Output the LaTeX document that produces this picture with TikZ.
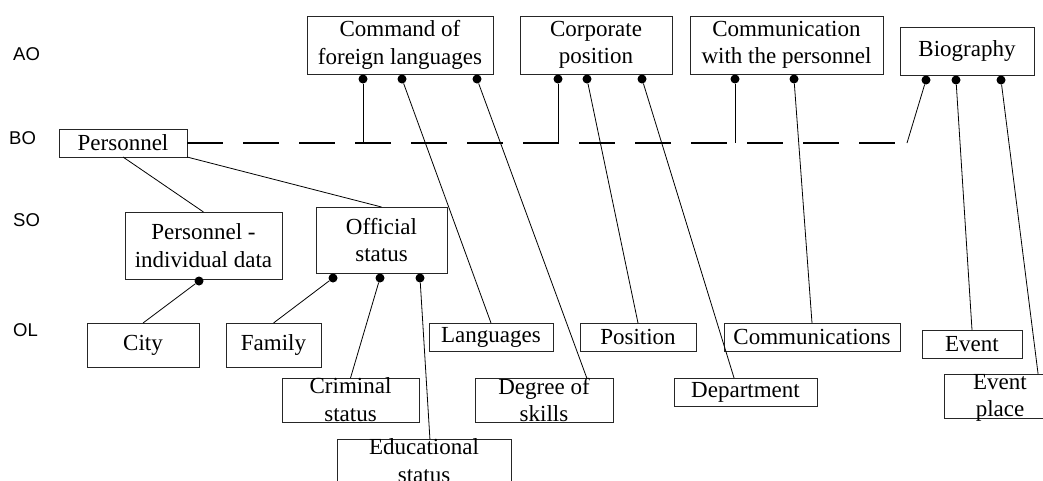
\documentclass[tikz,border=0pt]{standalone}
\usepackage{fontspec}
\setmainfont{Liberation Serif}
\newfontfamily\levelfont{Liberation Sans}
\usetikzlibrary{calc}

\tikzset{
  boxfont/.style={font=\fontsize{23}{27.5}\selectfont},
  box/.style={draw=black!85, line width=0.9pt, inner sep=0pt, outer sep=0pt,
              align=center, boxfont},
  boxtext/.style={inner sep=0pt, outer sep=0pt, align=center, boxfont},
  span/.style n args={4}{at={({(#1+#3)/2},{(#2+#4)/2})},
              minimum width={(#3-#1)*1pt}, minimum height={(#4-#2)*1pt}},
  dot/.style={circle, fill=black, inner sep=0pt, minimum size=9pt},
  link/.style={line width=0.8pt},
  busline/.style={line width=2pt, dash pattern=on 36pt off 20pt},
  level/.style={anchor=west, inner sep=0pt, font=\levelfont\fontsize{18.5}{20}\selectfont},
}

\begin{document}
\begin{tikzpicture}[x=1pt, y=-1pt]
\useasboundingbox (0,0) rectangle (1043,480);

% level captions
\node[level] (ao) at (13,54)  {AO};
\node[level] (bo) at (9,138)  {BO};
\node[level] (so) at (13,220) {SO};
\node[level] (ol) at (13,330) {OL};

% AO row
\node[box, span={307}{16}{493}{74}]  (cmd)  {Command of\\foreign languages};
\node[box, span={520}{16}{672}{74}]  (corp) {Corporate\\position};
\node[box, span={690}{16}{883}{74}]  (comm) {Communication\\with the personnel};
\node[box, span={900}{27}{1034}{75}] (bio)  {Biography};

% BO row
\node[box, span={59}{129}{187}{157}] (pers) {Personnel};

% SO row
\node[box, span={125}{212}{282}{279}] (pid) {Personnel -\\individual data};
\node[box, span={316}{207}{447}{273}] (off) {Official\\status};

% OL row
\node[box, span={87}{323}{199}{367}]   (city)  {City};
\node[box, span={226}{323}{321}{367}]  (fam)   {Family};
\node[box, span={429}{323}{553}{351}]  (lang)  {Languages};
\node[box, span={580}{323}{696}{351}]  (pos)   {Position};
\node[box, span={724}{323}{900}{351}]  (comms) {Communications};
\node[box, span={922}{330}{1022}{358}] (event) {Event};
\node[box, span={674}{378}{817}{406}]  (dep)   {Department};

\node[box, span={282}{378}{419}{422}]  (crim) {};
\node[boxtext, anchor=north] (crimt) at (crim.north) {Criminal\\status};
\node[box, span={475}{378}{613}{422}]  (deg) {};
\node[boxtext, anchor=north] (degt) at (deg.north) {Degree of\\skills};
\node[box, span={337}{439}{511}{500}]  (edu) {};
\node[boxtext, anchor=north] (edut) at (edu.north) {Educational\\status};
\node[box, span={944}{374}{1056}{418}] (epl) {};
\node[boxtext, anchor=north] (eplt) at (epl.north) {Event\\place};

% attachment dots
\node[dot] (cmd1)  at (363,79) {};
\node[dot] (cmd2)  at (402,79) {};
\node[dot] (cmd3)  at (477,79) {};
\node[dot] (corp1) at (558,79) {};
\node[dot] (corp2) at (587,79) {};
\node[dot] (corp3) at (642,79) {};
\node[dot] (comm1) at (735,79) {};
\node[dot] (comm2) at (794,79) {};
\node[dot] (bio1)  at (926,80) {};
\node[dot] (bio2)  at (956,80) {};
\node[dot] (bio3)  at (1001,80) {};
\node[dot] (pid1)  at (199,281) {};
\node[dot] (off1)  at (333,278) {};
\node[dot] (off2)  at (380,278) {};
\node[dot] (off3)  at (420,278) {};

% dashed bus from Personnel
\coordinate (busend) at (897,143);
\draw[busline] (pers.east) -- (busend);

% AO objects hooked onto the bus
\coordinate (tap1) at (363,143);
\coordinate (tap2) at (558,143);
\coordinate (tap3) at (735,143);
\coordinate (tap4) at (907,143);
\draw[link] (cmd1)  -- (tap1);
\draw[link] (corp1) -- (tap2);
\draw[link] (comm1) -- (tap3);
\draw[link] (bio1)  -- (tap4);

% Personnel to its SO objects
\draw[link] (pers.south)      -- (pid.north);
\draw[link] (pers.south east) -- (off.north);

% SO to OL
\draw[link] (pid1) -- (city.north);
\draw[link] (off1) -- (fam.north);
\draw[link] (off2) -- (crim.north);
\draw[link] (off3) -- ($(edu.north west)!0.534!(edu.north east)$);

% AO to OL
\draw[link] (cmd2)  -- (lang.north);
\draw[link] (cmd3)  -- ($(deg.north west)!0.81!(deg.north east)$);
\draw[link] (corp2) -- (pos.north);
\draw[link] (corp3) -- ($(dep.north west)!0.42!(dep.north east)$);
\draw[link] (comm2) -- (comms.north);
\draw[link] (bio2)  -- (event.north);
\draw[link] (bio3)  -- ($(epl.north west)!0.84!(epl.north east)$);
\end{tikzpicture}
\end{document}
